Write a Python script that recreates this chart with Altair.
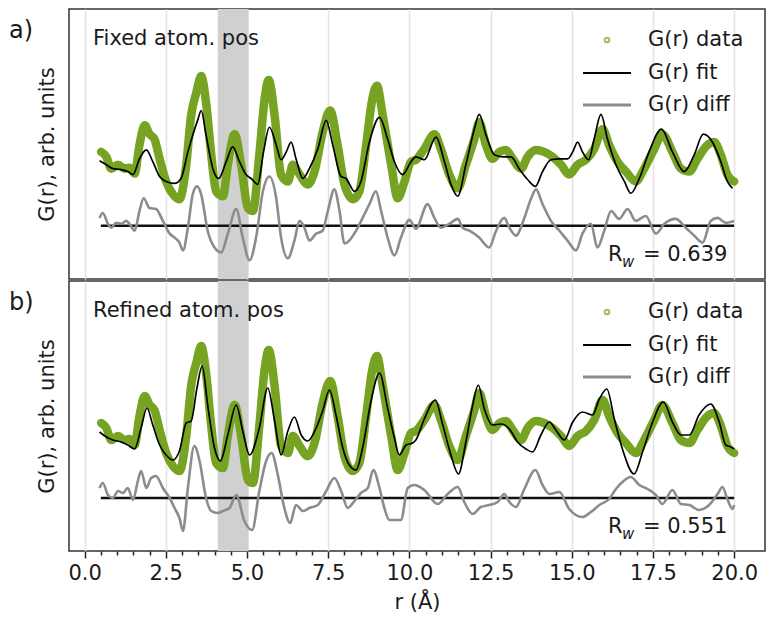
import altair as alt
import pandas as pd

# ---------------- data ----------------
# Measured G(r) (identical in both panels)
r_data = [0.51, 0.67, 0.82, 1.03, 1.23, 1.38, 1.54, 1.69, 1.85, 2.0, 2.15, 2.31, 2.51, 2.72, 2.92,
          3.13, 3.28, 3.44, 3.59, 3.74, 3.9, 4.05, 4.26, 4.41, 4.62, 4.82, 5.03, 5.18, 5.38, 5.54,
          5.67, 5.85, 6.05, 6.26, 6.41, 6.62, 6.87, 7.08, 7.33, 7.56, 7.79, 8.0, 8.26, 8.46, 8.67,
          8.84, 9.0, 9.18, 9.44, 9.64, 9.85, 10.05, 10.2, 10.46, 10.77, 10.97, 11.23, 11.49, 11.74,
          12.0, 12.15, 12.36, 12.56, 12.77, 12.97, 13.18, 13.44, 13.64, 13.9, 14.15, 14.41, 14.67,
          14.92, 15.18, 15.44, 15.69, 15.95, 16.15, 16.41, 16.67, 16.97, 17.23, 17.54, 17.79, 18.1,
          18.36, 18.62, 18.87, 19.18, 19.38, 19.59, 19.79, 20.0]
g_data = [7.5, 7.0, 5.8, 6.2, 5.8, 5.9, 5.3, 8.2, 10.2, 9.3, 8.8, 6.8, 4.5, 3.2, 2.7,
          6.2, 11.2, 13.5, 15.2, 12.5, 7.2, 3.5, 3.0, 6.2, 9.3, 6.2, 1.8, 1.5, 7.2, 12.8,
          14.8, 11.2, 5.2, 4.5, 6.2, 5.2, 4.2, 5.5, 9.5, 11.7, 8.2, 4.2, 2.7, 3.5, 8.2,
          12.5, 14.2, 11.2, 6.2, 2.8, 4.5, 6.5, 6.7, 7.8, 9.3, 7.8, 5.2, 3.8, 6.2,
          8.8, 10.5, 8.2, 6.8, 7.5, 7.7, 6.8, 5.8, 7.0, 7.7, 7.5, 7.0, 6.2,
          5.2, 6.2, 6.7, 7.8, 9.8, 8.2, 6.5, 5.5, 4.5, 5.8, 7.8, 9.3, 7.5,
          5.8, 5.5, 6.8, 8.2, 8.5, 7.2, 5.2, 4.5]

# Panel a) fit and difference
r_fit_a = [0.46, 0.67, 0.87, 1.13, 1.33, 1.49, 1.69, 1.9, 2.1, 2.31, 2.51, 2.77, 2.97, 3.18, 3.33,
           3.49, 3.59, 3.74, 3.95, 4.13, 4.36, 4.56, 4.77, 4.97, 5.13, 5.33, 5.51, 5.69, 5.9, 6.05,
           6.21, 6.36, 6.51, 6.72, 6.92, 7.18, 7.44, 7.64, 7.9, 8.05, 8.31, 8.51, 8.77, 9.08, 9.33,
           9.54, 9.79, 10.05, 10.2, 10.46, 10.82, 11.08, 11.28, 11.49, 11.74, 12.0, 12.15, 12.36,
           12.62, 12.87, 13.13, 13.38, 13.64, 13.88, 14.1, 14.36, 14.62, 14.87, 15.03, 15.18, 15.33,
           15.52, 15.69, 15.9, 16.1, 16.36, 16.62, 16.82, 17.08, 17.38, 17.76, 18.1, 18.46, 18.77,
           19.05, 19.33, 19.59, 19.79, 19.95]
g_fit_a = [6.6, 6.2, 5.8, 5.7, 5.5, 5.2, 6.8, 7.7, 6.5, 5.0, 4.5, 4.3, 4.8, 7.5, 9.2,
           10.8, 11.7, 9.2, 5.8, 4.8, 6.5, 8.0, 6.5, 5.2, 4.8, 4.2, 7.5, 10.0, 8.2, 6.7,
           7.5, 8.5, 6.8, 4.8, 5.8, 7.8, 10.7, 8.2, 5.0, 4.8, 3.5, 4.5, 8.5, 11.0, 8.8,
           6.5, 5.2, 6.5, 7.0, 6.7, 9.0, 6.5, 4.2, 3.0, 6.2, 9.8, 11.3, 9.2,
           7.2, 7.0, 7.0, 5.8, 4.7, 4.0, 5.5, 6.7, 6.8, 6.8, 7.5, 8.5, 7.5,
           6.7, 8.8, 11.3, 8.8, 6.2, 4.5, 3.3, 4.8, 7.5, 9.8, 7.5, 5.5, 7.2,
           9.3, 8.5, 6.5, 4.5, 3.8]
r_diff_a = [0.46, 0.56, 0.72, 0.82, 0.97, 1.13, 1.28, 1.38, 1.54, 1.69, 1.82, 2.0, 2.2, 2.41, 2.62,
            2.77, 2.92, 3.03, 3.18, 3.33, 3.46, 3.59, 3.79, 4.0, 4.21, 4.41, 4.67, 4.87, 5.08, 5.28,
            5.49, 5.69, 5.9, 6.05, 6.26, 6.46, 6.62, 6.77, 6.92, 7.13, 7.33, 7.49, 7.69, 7.85, 8.0,
            8.15, 8.36, 8.56, 8.77, 8.97, 9.13, 9.33, 9.54, 9.74, 10.0, 10.2, 10.56, 10.77, 10.97,
            11.23, 11.49, 11.64, 11.85, 12.15, 12.46, 12.67, 12.92, 13.08, 13.28, 13.54, 13.74, 13.9,
            14.1, 14.36, 14.62, 14.87, 15.13, 15.33, 15.59, 15.79, 16.0, 16.21, 16.46, 16.72, 16.97,
            17.28, 17.59, 17.85, 18.2, 18.51, 18.77, 19.03, 19.28, 19.49, 19.74, 20.0]
g_diff_a = [0.8, 1.3, 0.2, -0.2, 0.3, 0.2, 0.5, 0.2, -0.5, 1.5, 2.8, 1.8, 1.7, 0.5, -0.8,
            -1.2, -1.7, -2.5, -0.2, 3.2, 4.0, 3.2, -0.5, -2.2, -2.7, -0.8, 1.7, -1.2, -3.5, -1.2,
            3.5, 5.0, 2.8, -1.2, -3.3, -1.5, 0.5, -0.2, -1.5, -0.8, -0.5, 1.5, 3.7, 1.5, -1.8,
            -1.5, -0.5, 0.8, 2.2, 3.5, 1.5, -1.2, -3.0, -1.2, 0.6, -0.3, 2.2, 0.8, -0.2,
            0.2, 0.7, -0.2, -0.5, -1.2, -2.2, -0.5, 0.8, -0.2, -1.0, 0.8, 2.7, 3.7,
            2.2, 0.5, -0.5, -1.5, -2.5, -0.8, 0.2, -2.2, -0.5, 1.5, 0.7, 1.7, 0.5,
            1.0, -0.8, 0.2, 0.7, -0.2, -1.0, -1.7, 0.5, 0.8, 0.3, 0.5]

# Panel b) fit and difference
r_fit_b = [0.46, 0.67, 0.87, 1.13, 1.33, 1.54, 1.74, 1.92, 2.1, 2.31, 2.51, 2.72, 2.92, 3.13, 3.28,
           3.46, 3.62, 3.79, 4.0, 4.18, 4.41, 4.67, 4.87, 5.08, 5.38, 5.64, 5.85, 6.05, 6.26, 6.46,
           6.67, 6.87, 7.13, 7.33, 7.54, 7.74, 7.95, 8.15, 8.36, 8.56, 8.82, 9.08, 9.33, 9.54, 9.69,
           9.9, 10.1, 10.2, 10.46, 10.8, 11.03, 11.28, 11.51, 11.74, 11.95, 12.12, 12.31, 12.56,
           12.82, 13.08, 13.33, 13.59, 13.79, 14.05, 14.31, 14.51, 14.77, 15.03, 15.33, 15.64, 15.85,
           16.08, 16.31, 16.56, 16.92, 17.18, 17.49, 17.82, 18.1, 18.36, 18.62, 18.92, 19.28, 19.54,
           19.74, 19.9, 20.0]
g_fit_b = [6.6, 6.1, 5.8, 5.6, 5.3, 4.9, 7.0, 9.0, 7.3, 5.3, 4.3, 3.8, 4.7, 7.5, 7.7,
           11.0, 13.2, 9.3, 5.0, 3.7, 6.3, 9.3, 6.7, 4.3, 7.0, 11.0, 7.7, 4.3, 6.7, 8.1,
           6.3, 5.7, 7.0, 8.7, 10.8, 8.3, 5.0, 3.3, 2.8, 5.0, 9.7, 12.5, 9.0, 6.0, 4.3,
           5.3, 5.5, 5.8, 7.9, 9.8, 7.3, 4.3, 2.4, 5.6, 9.3, 11.3, 8.9, 7.3,
           7.4, 6.9, 5.6, 4.9, 4.6, 6.3, 7.6, 6.8, 5.8, 7.6, 8.6, 8.3, 9.9,
           10.9, 7.9, 4.9, 2.4, 4.6, 7.6, 9.6, 7.6, 6.3, 6.3, 8.3, 9.4, 7.6,
           5.3, 5.1, 4.9]
r_diff_b = [0.46, 0.56, 0.72, 0.87, 1.03, 1.18, 1.33, 1.49, 1.64, 1.74, 1.9, 2.05, 2.2, 2.41, 2.62,
            2.77, 2.92, 3.03, 3.18, 3.38, 3.54, 3.74, 3.9, 4.1, 4.26, 4.46, 4.67, 4.92, 5.16, 5.38,
            5.59, 5.76, 5.95, 6.15, 6.33, 6.51, 6.72, 6.92, 7.18, 7.44, 7.69, 7.9, 8.1, 8.31, 8.51,
            8.72, 8.89, 9.08, 9.23, 9.38, 9.59, 9.74, 9.95, 10.15, 10.46, 10.87, 11.18, 11.49, 11.69,
            11.95, 12.2, 12.46, 12.72, 12.92, 13.08, 13.28, 13.54, 13.88, 14.1, 14.31, 14.62, 14.92,
            15.33, 15.59, 15.85, 16.15, 16.36, 16.56, 16.82, 17.08, 17.33, 17.59, 17.79, 18.1, 18.36,
            18.62, 18.92, 19.23, 19.49, 19.64, 19.79, 19.95, 20.0]
g_diff_b = [1.0, 1.5, 0.3, 0.0, 0.7, 0.5, 1.0, -0.2, 1.7, 2.7, 1.0, 2.0, 2.2, 1.0, 0.0,
            -1.0, -2.0, -3.3, 1.0, 5.2, 3.7, 0.0, -1.3, -1.5, -1.3, -1.0, 0.3, -2.3, -3.2, 0.7,
            3.7, 4.5, 2.3, -1.0, -2.5, -0.7, -1.3, -1.0, -0.7, 0.7, 2.0, 0.7, -1.0, -0.3, 0.5,
            1.0, 2.8, 1.0, -1.0, -2.2, -2.2, -2.2, 1.0, 1.3, 0.8, -0.6, 0.4, 1.1, -0.4,
            -1.6, -0.9, -0.7, -0.4, 0.4, -0.4, -0.9, 0.9, 2.8, 1.3, 0.4, 0.6, -1.1,
            -1.9, -1.4, -0.7, -0.1, 0.9, 1.6, 2.1, 1.3, 0.9, 0.3, -0.6, 0.8, -0.6,
            -0.7, -1.2, -0.7, 0.4, 1.1, -0.1, -1.1, -0.7]

shaded_band = [4.1, 5.05]
baseline_range = [0.5, 20.0]
panel_letters = ["a)", "b)"]
panel_titles = ["Fixed atom. pos", "Refined atom. pos"]
rw_values = ["0.639", "0.551"]
legend_labels = ["G(r) data", "G(r) fit", "G(r) diff"]
tick_values = [i * 0.5 for i in range(41)]

# ---------------- styling ----------------
W, H = 696, 270
FONT = "DejaVu Sans"
FS = 21
GREEN = "#76a321"
GRAY = "#8c8c8c"
BAND = "#d0d0d0"
TXT = "#1a1a1a"

xscale = alt.Scale(domain=[-0.48, 20.95], nice=False, zero=False)
major = "datum.value % 2.5 === 0"
grid_op = {"condition": {"test": major, "value": 1}, "value": 0}


def panel(fit_r, fit_v, diff_r, diff_v, ydom, letter, title, rw, bottom):
    yscale = alt.Scale(domain=ydom, nice=False, zero=False)
    if bottom:
        xaxis = alt.Axis(values=tick_values, title="r (Å)",
                         labelExpr=f"{major} ? format(datum.value, '.1f') : ''",
                         tickSize={"condition": {"test": major, "value": 7}, "value": 4},
                         gridOpacity=grid_op, labelOverlap=False, labelFlush=False,
                         domain=False, tickColor="#222", tickWidth=1.5,
                         labelPadding=4, titlePadding=8,
                         labelFont=FONT, labelFontSize=FS, labelColor=TXT,
                         titleFont=FONT, titleFontSize=FS, titleColor=TXT,
                         titleFontWeight="normal", gridColor="#e3e3e3", gridWidth=1.5)
    else:
        xaxis = alt.Axis(values=tick_values, title=None, labels=False, ticks=False,
                         gridOpacity=grid_op, domain=False,
                         gridColor="#e3e3e3", gridWidth=1.5)
    yaxis = alt.Axis(title="G(r), arb. units", labels=False, ticks=False, grid=False,
                     domain=False, titlePadding=12, titleFont=FONT, titleFontSize=FS,
                     titleColor=TXT, titleFontWeight="normal")

    X = lambda f: alt.X(f, scale=xscale, axis=xaxis)
    Y = lambda f: alt.Y(f, scale=yscale, axis=yaxis)

    band_layer = alt.Chart(pd.DataFrame({"lo": [shaded_band[0]], "hi": [shaded_band[1]]})).mark_rect(
        color=BAND).encode(x=X("lo:Q"), x2="hi:Q", y=alt.value(0), y2=alt.value(H))

    base_layer = alt.Chart(pd.DataFrame({"x0": [baseline_range[0]], "x1": [baseline_range[1]],
                                         "v": [0.0]})).mark_rule(
        color="#111", strokeWidth=2.5).encode(x=X("x0:Q"), x2="x1:Q", y=Y("v:Q"))

    diff_layer = alt.Chart(pd.DataFrame({"r": diff_r, "v": diff_v})).mark_line(
        color=GRAY, strokeWidth=2.6, interpolate="monotone").encode(x=X("r:Q"), y=Y("v:Q"))

    data_layer = alt.Chart(pd.DataFrame({"r": r_data, "v": g_data})).mark_line(
        color=GREEN, strokeWidth=8.5, interpolate="monotone", strokeCap="round",
        strokeJoin="round").encode(x=X("r:Q"), y=Y("v:Q"))

    fit_layer = alt.Chart(pd.DataFrame({"r": fit_r, "v": fit_v})).mark_line(
        color="#000", strokeWidth=1.7, interpolate="monotone").encode(x=X("r:Q"), y=Y("v:Q"))

    def txt(s, x, y, size=FS, align="left", style="normal"):
        return alt.Chart(pd.DataFrame({"t": [s]})).mark_text(
            font=FONT, fontSize=size, color=TXT, align=align, baseline="middle",
            fontStyle=style).encode(x=alt.value(x), y=alt.value(y), text="t:N")

    rows = [31, 64, 96]
    one = pd.DataFrame({"k": [0]})
    leg_pt = alt.Chart(one).mark_point(shape="circle", filled=False, color=GREEN,
                                       strokeWidth=2, size=22).encode(
        x=alt.value(538), y=alt.value(rows[0]))
    leg_fit = alt.Chart(one).mark_rule(color="#000", strokeWidth=2).encode(
        x=alt.value(514), x2=alt.value(562), y=alt.value(rows[1]))
    leg_diff = alt.Chart(one).mark_rule(color=GRAY, strokeWidth=3).encode(
        x=alt.value(514), x2=alt.value(562), y=alt.value(rows[2]))

    layers = [band_layer, base_layer, diff_layer, data_layer, fit_layer,
              txt(letter, -60, 22, size=24),
              txt(title, 24, 30),
              leg_pt, leg_fit, leg_diff,
              txt(legend_labels[0], 579, rows[0]),
              txt(legend_labels[1], 579, rows[1]),
              txt(legend_labels[2], 579, rows[2]),
              txt("R", 539, 246),
              txt("w", 553, 253, size=15, style="italic"),
              txt("= " + rw, 574, 246)]
    return alt.layer(*layers).properties(width=W, height=H)


top = panel(r_fit_a, g_fit_a, r_diff_a, g_diff_a, [-5.4, 22.0],
            panel_letters[0], panel_titles[0], rw_values[0], bottom=False)
bot = panel(r_fit_b, g_fit_b, r_diff_b, g_diff_b, [-5.3, 21.7],
            panel_letters[1], panel_titles[1], rw_values[1], bottom=True)

chart = alt.vconcat(top, bot, spacing=0).properties(padding=0).configure_view(
    stroke="#333", strokeWidth=1.5)

chart.save("out.html", embed_options={"renderer": "svg", "actions": False})
